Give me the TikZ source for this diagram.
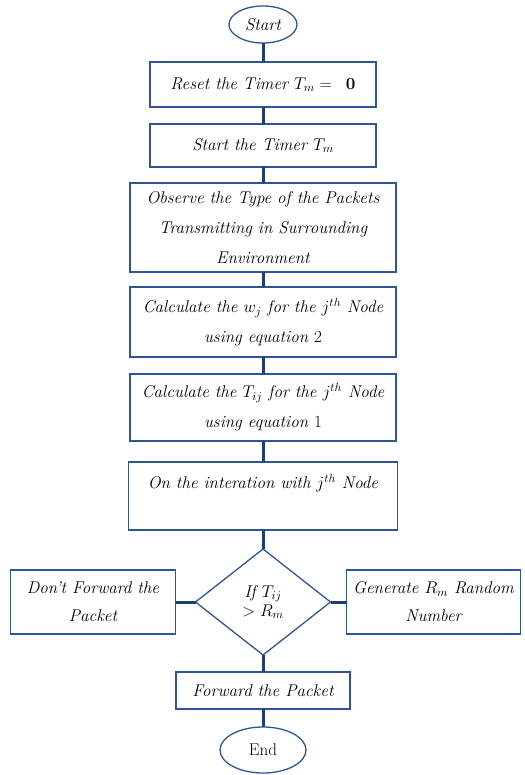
\documentclass[tikz,border=0pt]{standalone}
\usepackage{amsmath}
\usepackage{fix-cm}
\usepackage{xcolor}
\usepackage{tikz}
\usetikzlibrary{positioning}
\usetikzlibrary{shapes.geometric}
\definecolor{rand}{HTML}{2F5597}
\definecolor{linie}{HTML}{1F3F73}
\newcommand{\jte}{$j^{th}$}
\tikzset{
  kasten/.style={draw=rand, line width=1.3pt, outer sep=0pt, align=center, minimum width=#1, inner sep=3pt, font=\fontsize{17}{30}\selectfont\itshape},
  kasten/.default=266pt,
  oval/.style={draw=rand, ellipse, line width=1.3pt, outer sep=0pt, inner sep=0pt, font=\fontsize{17}{20}\selectfont},
  raute/.style={draw=rand, diamond, line width=1.3pt, outer sep=0pt, inner sep=0pt, minimum width=135pt, minimum height=106pt, align=center, font=\fontsize{17}{19}\selectfont\itshape},
  verb/.style={draw=linie, line width=3pt},
}

\begin{document}
\begin{tikzpicture}
  \useasboundingbox (0pt,0pt) rectangle (524pt,-775pt);

  \node[oval, minimum width=68pt, minimum height=37pt, font=\fontsize{17}{20}\selectfont\itshape] (start) at (263pt,-24.5pt) {Start};
  \node[kasten=226pt, minimum height=45pt, below=19pt of start] (reset) {Reset the Timer $T_m =\;\; \mathbf{0}$};
  \node[kasten=226pt, minimum height=43pt, below=17pt of reset] (timer) {Start the Timer $T_m$};
  \node[kasten, minimum height=89pt, below=16pt of timer] (observe) {Observe the Type of the Packets\\ Transmitting in Surrounding\\ Environment};
  \node[kasten, minimum height=70pt, below=15pt of observe] (calcw) {Calculate the $w_j$ for the \jte{} Node\\ using equation $2$};
  \node[kasten, minimum height=67pt, below=17pt of calcw] (calct) {Calculate the $T_{ij}$ for the \jte{} Node\\ using equation $1$};
  \node[kasten=269pt, minimum height=68pt, below=21pt of calct] (inter) {On the interation with \jte{} Node\\ \mbox{}};
  \node[raute, below=19pt of inter] (wahl) {If $T_{ij}$\\ $> R_m$};
  \node[kasten=165pt, minimum height=64pt, left=20pt of wahl, font=\fontsize{17}{28}\selectfont\itshape] (nicht) {Don't Forward the\\ Packet};
  \node[kasten=174pt, minimum height=64pt, right=16pt of wahl, font=\fontsize{17}{28}\selectfont\itshape] (zufall) {Generate $R_m$ Random\\ Number};
  \node[kasten=174pt, minimum height=37pt, below=17pt of wahl] (weiter) {Forward the Packet};
  \node[oval, minimum width=86pt, minimum height=46pt, below=18pt of weiter] (ende) {End};

  \draw[verb] (start) -- (reset);
  \draw[verb] (reset) -- (timer);
  \draw[verb] (timer) -- (observe);
  \draw[verb] (observe) -- (calcw);
  \draw[verb] (calcw) -- (calct);
  \draw[verb] (calct) -- (inter);
  \draw[verb] (inter) -- (wahl);
  \draw[verb] (wahl) -- (nicht);
  \draw[verb] (wahl) -- (zufall);
  \draw[verb] (wahl) -- (weiter);
  \draw[verb] (weiter) -- (ende);
\end{tikzpicture}
\end{document}
